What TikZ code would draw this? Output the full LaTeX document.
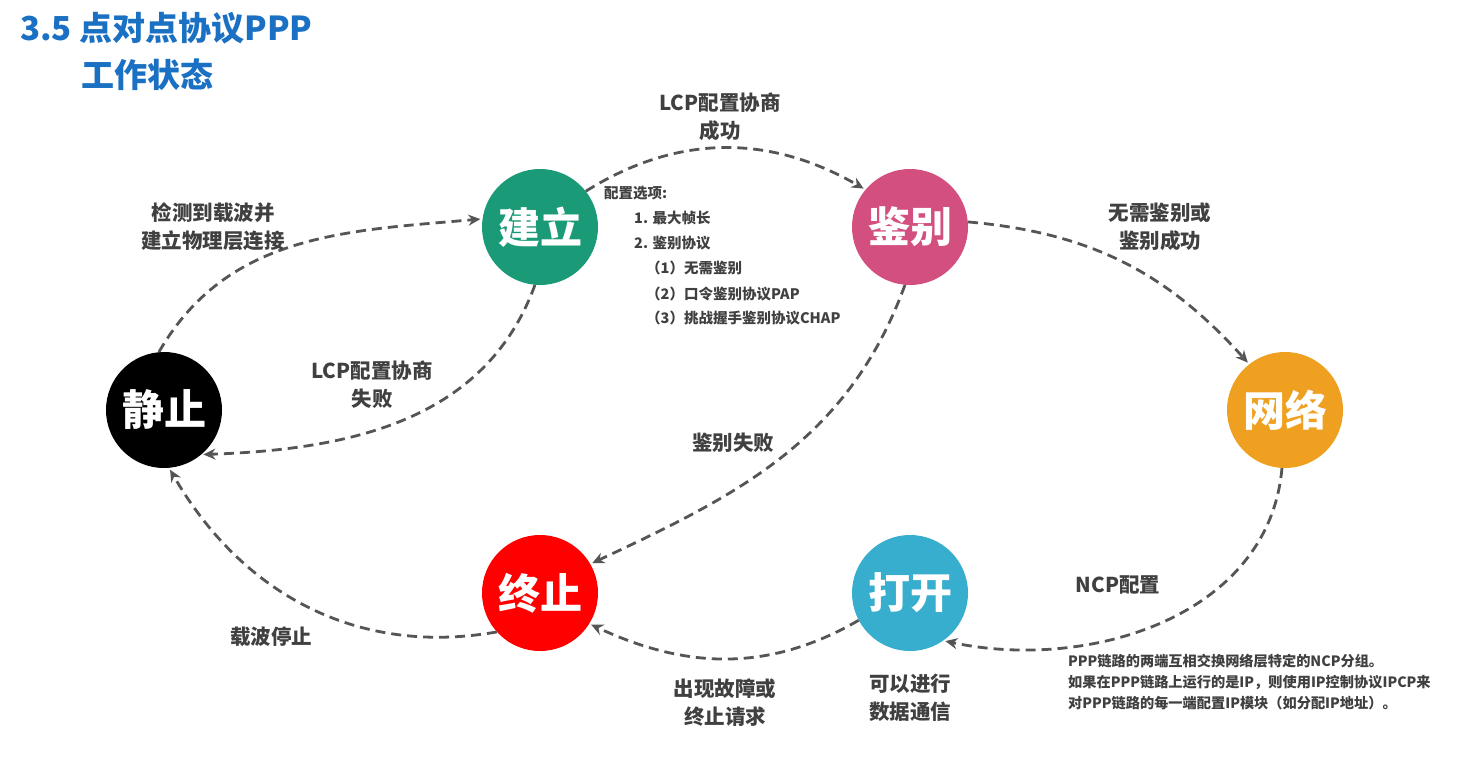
\documentclass[tikz,border=0pt]{standalone}
\usepackage{fontspec}
\setmainfont{Noto Sans CJK SC}
\usetikzlibrary{arrows.meta}
\definecolor{cgreen}{HTML}{1B9A77}
\definecolor{cpink}{HTML}{D24F80}
\definecolor{corange}{HTML}{EFA020}
\definecolor{ccyan}{HTML}{38AECF}
\definecolor{cred}{HTML}{FF0000}
\definecolor{cgray}{HTML}{555555}
\definecolor{ctext}{HTML}{404040}
\definecolor{ctitle}{HTML}{1A70C2}
\begin{document}
\begin{tikzpicture}[x=1pt,y=1pt,
  state/.style={circle,minimum size=116pt,inner sep=0pt,text=white,font=\bfseries\fontsize{42}{42}\selectfont},
  flow/.style={draw=cgray,line width=2.8pt,dash pattern=on 10pt off 6pt,-{Stealth[length=12pt,width=11pt]},shorten >=2pt},
  lbl/.style={text=ctext,font=\bfseries\fontsize{20.5}{28}\selectfont,align=center,inner sep=0pt},
  small/.style={text=ctext,font=\bfseries\fontsize{14.5}{25}\selectfont,anchor=west,inner sep=0pt},
  note/.style={text=ctext,font=\bfseries\fontsize{14.2}{21}\selectfont,anchor=north west,align=left,inner sep=0pt},
  ttl/.style={text=ctitle,font=\bfseries\fontsize{33}{34}\selectfont,anchor=west,inner sep=0pt}]
\useasboundingbox (0,0) rectangle (1463,-767);
\fill[white] (0,0) rectangle (1463,-767);

% title
\node[ttl] (t1) at (20,-28) {3.5 点对点协议PPP};
\node[ttl] (t2) at (81,-75) {工作状态};

% states
\node[state,fill=black]   (jz) at (164,-410) {静止};
\node[state,fill=cgreen]  (jl) at (540,-227) {建立};
\node[state,fill=cpink]   (jb) at (910,-227) {鉴别};
\node[state,fill=corange] (wl) at (1285,-410) {网络};
\node[state,fill=cred]    (zz) at (540,-593) {终止};
\node[state,fill=ccyan]   (dk) at (910,-593) {打开};

% connectors
\draw[flow] (jz.95) to[out=60,in=185] (jl.172);
\draw[flow] (jl.38) to[out=32,in=150] (jb.140);
\draw[flow] (jb.5) to[out=-5,in=132] (wl.128);
\draw[flow] (wl.-93) to[out=-95,in=-12] (dk.-55);
\draw[flow] (dk.208) to[out=-150,in=-25] (zz.-32);
\draw[flow] (zz.222) to[out=190,in=-60] (jz.-85);
\draw[flow] (jl.-95) to[out=-110,in=2] (jz.-50);
\draw[flow] (jb.-95) to[out=-110,in=25] (zz.30);

% labels
\node[lbl] (l1) at (720,-117) {LCP配置协商\\成功};
\node[lbl] (l2) at (213,-227) {检测到载波并\\建立物理层连接};
\node[lbl] (l3) at (1160,-227) {无需鉴别或\\鉴别成功};
\node[lbl] (l4) at (372,-385) {LCP配置协商\\失败};
\node[lbl] (l5) at (733,-443) {鉴别失败};
\node[lbl] (l6) at (1118,-585) {NCP配置};
\node[lbl] (l7) at (271,-637) {载波停止};
\node[lbl] (l8) at (725,-703) {出现故障或\\终止请求};
\node[lbl] (l9) at (910,-698) {可以进行\\数据通信};

% configuration options
\node[small] (o0) at (604,-193) {配置选项:};
\node[small] (o1) at (634,-218) {1. 最大帧长};
\node[small] (o2) at (634,-243) {2. 鉴别协议};
\node[small] (o3) at (646,-268) {（1）无需鉴别};
\node[small] (o4) at (646,-294) {（2）口令鉴别协议PAP};
\node[small] (o5) at (646,-318) {（3）挑战握手鉴别协议CHAP};

% note
\node[note] (n1) at (1068,-654) {PPP链路的两端互相交换网络层特定的NCP分组。\\如果在PPP链路上运行的是IP，则使用IP控制协议IPCP来\\对PPP链路的每一端配置IP模块（如分配IP地址）。};
\end{tikzpicture}
\end{document}
